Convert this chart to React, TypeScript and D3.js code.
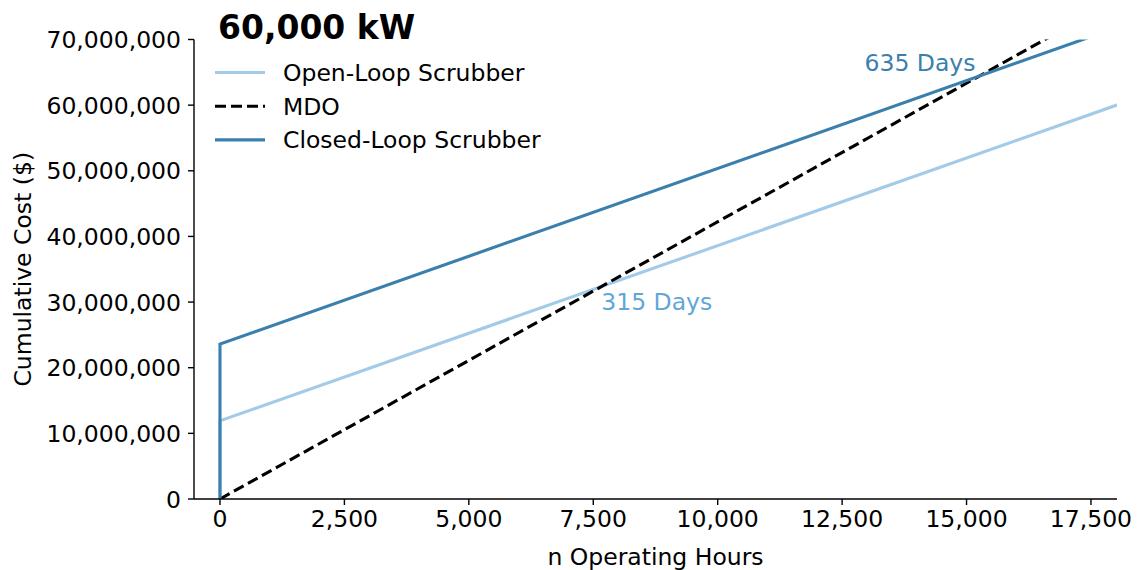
import React from "react";
import * as d3 from "d3";

// Cumulative cost of each fuel strategy over operating hours (60,000 kW engine)
const hours = [0, 0, 20000];
const openLoopCost = [0, 11900000, 65300000];
const mdoCost = [0, 0, 84460000];
const closedLoopCost = [0, 23600000, 77120000];

const seriesNames = ["Open-Loop Scrubber", "MDO", "Closed-Loop Scrubber"];
const breakEvenDays = [315, 635];

const xTicks = [0, 2500, 5000, 7500, 10000, 12500, 15000, 17500];
const yTicks = [0, 10000000, 20000000, 30000000, 40000000, 50000000, 60000000, 70000000];

const W = 1140;
const H = 570;
const FONT = "DejaVu Sans, sans-serif";
const FS = 23.5;
const LW = 3.1;

const OPEN_COLOR = "#a3cbe8";
const OPEN_LABEL_COLOR = "#5fa7d6";
const CLOSED_COLOR = "#3a7fad";

export default function App() {
  const x = d3.scaleLinear().domain([-522, 18023]).range([194, 1117]);
  const y = d3.scaleLinear().domain([0, 70000000]).range([499, 39.5]);
  const [x0, x1] = x.range();
  const [y0, y1] = y.range();

  const line = d3
    .line<number>()
    .x((_, i) => x(hours[i]))
    .y((d) => y(d));

  const fmt = d3.format(",");

  const series = [
    { name: seriesNames[0], values: openLoopCost, color: OPEN_COLOR, dash: "none" },
    { name: seriesNames[1], values: mdoCost, color: "#000", dash: "11,5" },
    { name: seriesNames[2], values: closedLoopCost, color: CLOSED_COLOR, dash: "none" },
  ];

  // MDO cost at a given hour, from the straight MDO segment
  const mdoAt = d3.scaleLinear().domain([hours[1], hours[2]]).range([mdoCost[1], mdoCost[2]]);

  const h315 = breakEvenDays[0] * 24;
  const h635 = breakEvenDays[1] * 24;

  return (
    <svg
      width={W}
      height={H}
      style={{ position: "absolute", left: 0, top: 0, background: "#fff" }}
      fontFamily={FONT}
    >
      <defs>
        <clipPath id="plot-area">
          <rect x={x0} y={y1} width={x1 - x0} height={y0 - y1} />
        </clipPath>
      </defs>

      <g clipPath="url(#plot-area)">
        {series.map((s) => (
          <path
            key={s.name}
            d={line(s.values) || ""}
            fill="none"
            stroke={s.color}
            strokeWidth={LW}
            strokeDasharray={s.dash}
          />
        ))}
      </g>

      {/* axes */}
      <line x1={x0} x2={x0} y1={y0} y2={y1} stroke="#000" strokeWidth={1.4} />
      <line x1={x0} x2={x1} y1={y0} y2={y0} stroke="#000" strokeWidth={1.4} />

      {yTicks.map((t) => (
        <g key={t}>
          <line x1={x0 - 6} x2={x0} y1={y(t)} y2={y(t)} stroke="#000" strokeWidth={1.4} />
          <text x={x0 - 13} y={y(t) + 8.5} textAnchor="end" fontSize={FS} fill="#000">
            {fmt(t)}
          </text>
        </g>
      ))}

      {xTicks.map((t) => (
        <g key={t}>
          <line x1={x(t)} x2={x(t)} y1={y0} y2={y0 + 6} stroke="#000" strokeWidth={1.4} />
          <text x={x(t)} y={y0 + 28} textAnchor="middle" fontSize={FS} fill="#000">
            {fmt(t)}
          </text>
        </g>
      ))}

      <text x={(x0 + x1) / 2} y={565} textAnchor="middle" fontSize={FS} fill="#000">
        n Operating Hours
      </text>
      <text
        transform={`translate(31, ${(y0 + y1) / 2}) rotate(-90)`}
        textAnchor="middle"
        fontSize={FS}
        fill="#000"
      >
        Cumulative Cost ($)
      </text>

      {/* title */}
      <text x={x(0) - 2} y={39} fontSize={33} fontWeight="bold" fill="#000">
        60,000 kW
      </text>

      {/* legend */}
      {series.map((s, i) => {
        const ly = 72.5 + i * 33.7;
        return (
          <g key={s.name}>
            <line
              x1={215}
              x2={265}
              y1={ly}
              y2={ly}
              stroke={s.color}
              strokeWidth={LW}
              strokeDasharray={s.dash}
            />
            <text x={283} y={ly + 8.5} fontSize={FS} fill="#000">
              {s.name}
            </text>
          </g>
        );
      })}

      {/* break-even annotations */}
      <text x={x(h315) + 5} y={y(mdoAt(h315)) + 21} fontSize={FS} fill={OPEN_LABEL_COLOR}>
        {`${breakEvenDays[0]} Days`}
      </text>
      <text
        x={x(h635) - 3}
        y={y(mdoAt(h635)) - 6}
        textAnchor="end"
        fontSize={FS}
        fill={CLOSED_COLOR}
      >
        {`${breakEvenDays[1]} Days`}
      </text>
    </svg>
  );
}
